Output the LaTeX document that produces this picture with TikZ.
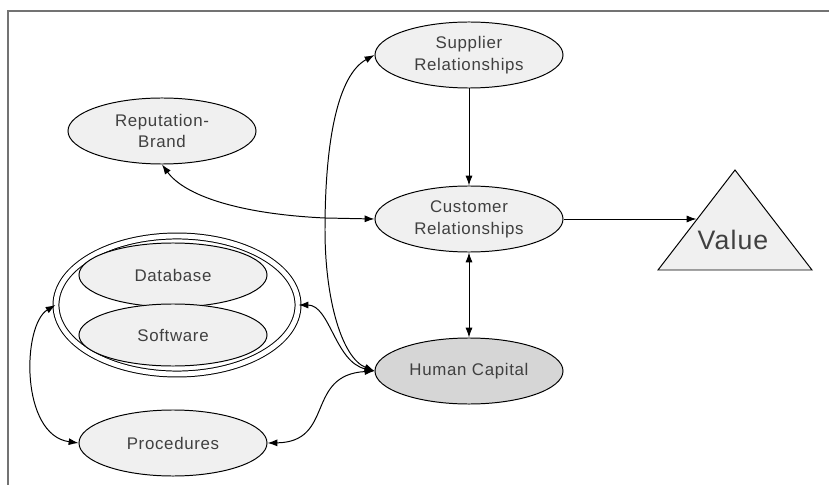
\documentclass[tikz,border=0pt]{standalone}
\usepackage{fontspec}
\setmainfont{Liberation Sans}[LetterSpace=4]
\usepackage{tikz}
\usetikzlibrary{
  % ellipse nodes
  shapes.geometric,%
  arrows.meta,%
  calc
}
\tikzset{>={Latex[length=7pt,width=5pt]}}
\definecolor{assetgray}{rgb}{0.94, 0.94, 0.94}
\definecolor{humangray}{rgb}{0.84, 0.84, 0.84}
\definecolor{textgray}{rgb}{0.25, 0.25, 0.25}
\definecolor{framegray}{rgb}{0.45, 0.45, 0.45}
\tikzset{asset/.style={ellipse, draw, fill=assetgray, line width=0.7pt, inner sep=0pt,
    minimum width=4.7cm, minimum height=1.65cm, align=center, text=textgray,
    font=\fontsize{12}{15.5}\selectfont}}
\tikzset{link/.style={<->, line width=0.7pt}}

\begin{document}
\begin{tikzpicture}[x=0.025cm, y=-0.025cm]
          \useasboundingbox (0, 0) rectangle (829, 485);
          \draw[framegray, line width=1pt] (8, 485) |- (829, 11);
          % intangible assets
          \node[asset] (sup) at (469, 55) {Supplier\\Relationships};
          \node[asset] (rep) at (162, 131) {Reputation-\\Brand};
          \node[asset] (cus) at (469, 219) {Customer\\Relationships};
          \node[asset, fill=humangray] (hum) at (469, 371) {Human Capital};
          \node[asset, fill=white, double, double distance=3.5pt,
            minimum width=6.05cm, minimum height=3.45cm] (sys) at (177, 305) {};
          \node[asset, minimum height=1.6cm] (db) at (173, 275) {Database};
          \node[asset, minimum height=1.55cm] (sw) at (173, 335) {Software};
          \node[asset] (proc) at (173, 443) {Procedures};
          % value triangle
          \coordinate (top) at (735, 170);
          \coordinate (bl) at (658, 270);
          \coordinate (br) at (812, 270);
          \draw[fill=assetgray, line width=0.7pt] (top) -- (bl) -- (br) -- cycle;
          \coordinate (vin) at ($(top)!0.5!(bl)$);
          \node[text=textgray, font=\fontsize{19}{22}\selectfont] (value) at (733, 240) {Value};
          % links
          \coordinate (rj) at (325, 218);
          \draw[->, line width=0.7pt] (sup) -- (cus);
          \draw[->, line width=0.7pt] (cus.east) -- (cus.east -| vin);
          \draw[link] (cus) -- (hum);
          \draw[link] (rep.south) .. controls (185, 196) and (240, 214) .. (rj) -- (cus.west);
          \draw[link] (sup.west) .. controls (338, 75) and (325, 140) .. (325, 230)
            .. controls (325, 300) and (342, 358) .. (hum.west);
          \draw[link] (sys.east) .. controls (330, 305) and (335, 362) .. (hum.west);
          \draw[link] (proc.east) .. controls (335, 442) and (305, 375) .. (hum.west);
          \draw[link] (sys.west) .. controls (22, 325) and (20, 435) .. (proc.west);
        \end{tikzpicture}
\end{document}
